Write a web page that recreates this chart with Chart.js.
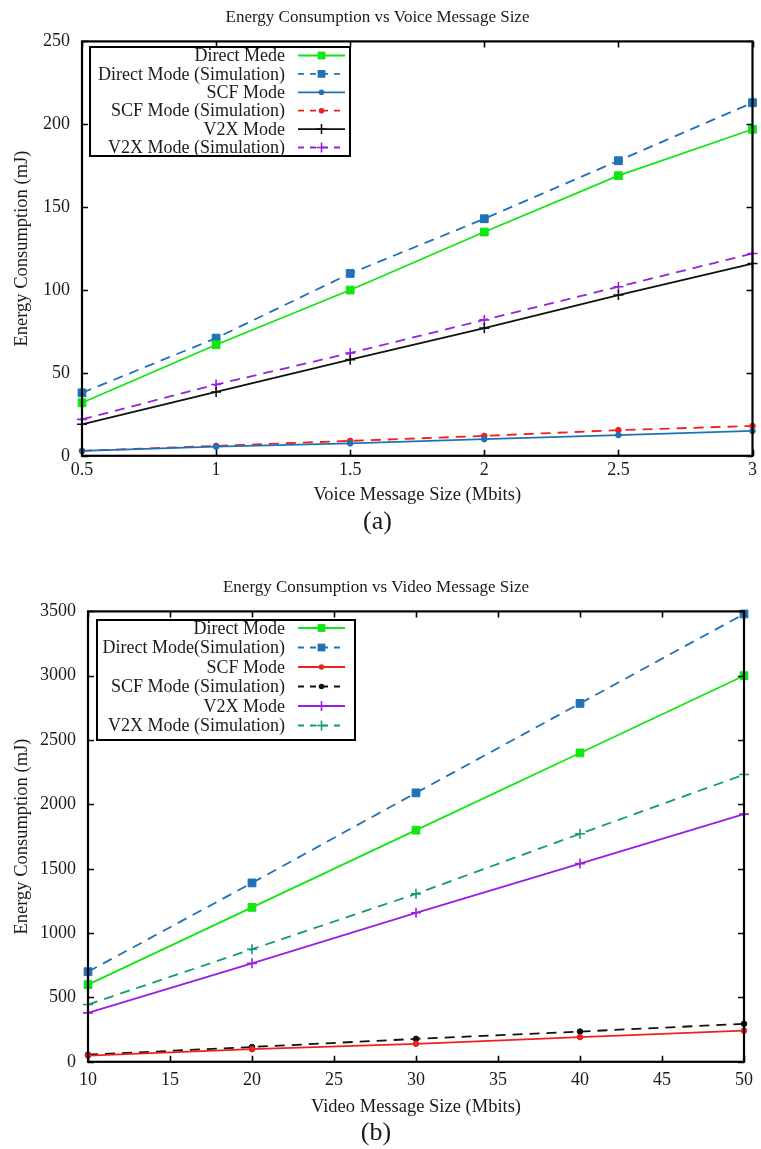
<!DOCTYPE html>
<html>
<head>
<meta charset="utf-8">
<script src="https://cdn.jsdelivr.net/npm/chart.js@4/dist/chart.umd.min.js"></script>
<style>
  html, body { margin: 0; padding: 0; background: #fff; }
  body { width: 761px; height: 1149px; position: relative; overflow: hidden; }
  canvas { position: absolute; left: 0; }
  #c1 { top: 0; }
  #c2 { top: 560px; }
</style>
</head>
<body>
<canvas id="c1" width="761" height="538"></canvas>
<canvas id="c2" width="761" height="589"></canvas>
<script>
// ---------- Data (a): voice ----------
const voiceSizes     = [0.5, 1, 1.5, 2, 2.5, 3];
const voiceDirect    = [32, 67, 100, 135, 169, 197];
const voiceDirectSim = [38, 71, 110, 143, 178, 213];
const voiceSCF       = [3, 5.5, 7.5, 10, 12.5, 15];
const voiceSCFSim    = [3, 6, 9, 12, 15.5, 18];
const voiceV2X       = [19, 38.5, 58, 77, 97, 116];
const voiceV2XSim    = [22, 43, 62, 82, 102, 122];
const voiceXTicks    = [0.5, 1, 1.5, 2, 2.5, 3];
const voiceYTicks    = [0, 50, 100, 150, 200, 250];

// ---------- Data (b): video ----------
const videoSizes     = [10, 20, 30, 40, 50];
const videoDirect    = [600, 1200, 1800, 2400, 3000];
const videoDirectSim = [700, 1390, 2090, 2785, 3480];
const videoSCF       = [48, 98, 140, 192, 242];
const videoSCFSim    = [55, 115, 178, 235, 295];
const videoV2X       = [380, 765, 1158, 1540, 1925];
const videoV2XSim    = [445, 875, 1305, 1772, 2232];
const videoXTicks    = [10, 15, 20, 25, 30, 35, 40, 45, 50];
const videoYTicks    = [0, 500, 1000, 1500, 2000, 2500, 3000, 3500];

const FONT = '"Liberation Serif", "Times New Roman", serif';
const TXT = '#1a1a1a';
const C = {
  green: '#12e612', blue: '#1f72b8', red: '#ee2020', black: '#111111',
  purple: '#9a1ee0', teal: '#119a78'
};
const DASH = [10, 7];

function pts(xs, ys) { return xs.map((x, i) => ({ x: x, y: ys[i] })); }

function ds(label, xs, ys, color, dashed, style) {
  const r = style === 'rect' ? 5.5 : (style === 'cross' ? 5 : 2.8);
  return {
    label: label,
    data: pts(xs, ys),
    borderColor: color,
    backgroundColor: color,
    borderWidth: 1.8,
    borderDash: dashed ? DASH : [],
    pointStyle: style,
    pointRadius: r,
    pointBorderWidth: style === 'cross' ? 1.6 : 1,
    pointBackgroundColor: color,
    pointBorderColor: color,
    tension: 0,
    clip: 10
  };
}

function marker(ctx, style, r, bw, x, y, color) {
  ctx.save();
  ctx.setLineDash([]);
  ctx.fillStyle = color; ctx.strokeStyle = color; ctx.lineWidth = bw;
  ctx.beginPath();
  if (style === 'rect') {
    const s = r * Math.SQRT1_2;
    ctx.rect(x - s, y - s, 2 * s, 2 * s); ctx.fill();
  } else if (style === 'circle') {
    ctx.arc(x, y, r, 0, Math.PI * 2); ctx.fill();
  } else if (style === 'cross') {
    ctx.moveTo(x - r, y); ctx.lineTo(x + r, y);
    ctx.moveTo(x, y - r); ctx.lineTo(x, y + r); ctx.stroke();
  }
  ctx.restore();
}

const framePlugin = {
  id: 'frame',
  afterDatasetsDraw(chart, args, o) {
    const { ctx, chartArea: a } = chart;
    const xs = chart.scales.x, ys = chart.scales.y;
    ctx.save();
    ctx.setLineDash([]);
    ctx.strokeStyle = '#000';
    ctx.lineWidth = 1.6;
    const L = 6;
    ctx.beginPath();
    xs.ticks.forEach(t => {
      const p = Math.round(xs.getPixelForValue(t.value)) + 0.5;
      ctx.moveTo(p, a.bottom); ctx.lineTo(p, a.bottom - L);
      ctx.moveTo(p, a.top); ctx.lineTo(p, a.top + L);
    });
    ys.ticks.forEach(t => {
      const p = Math.round(ys.getPixelForValue(t.value)) + 0.5;
      ctx.moveTo(a.left, p); ctx.lineTo(a.left + L, p);
      ctx.moveTo(a.right, p); ctx.lineTo(a.right - L, p);
    });
    ctx.stroke();
    ctx.lineWidth = 2.2;
    ctx.strokeRect(a.left, a.top, a.right - a.left, a.bottom - a.top);

    // legend box
    const lg = o.legend;
    ctx.fillStyle = '#fff';
    ctx.fillRect(lg.left, lg.top, lg.right - lg.left, lg.bottom - lg.top);
    ctx.lineWidth = 2;
    ctx.strokeStyle = '#000';
    ctx.strokeRect(lg.left, lg.top, lg.right - lg.left, lg.bottom - lg.top);
    ctx.font = lg.fontSize + 'px ' + FONT;
    ctx.textAlign = 'right';
    ctx.textBaseline = 'middle';
    chart.data.datasets.forEach((d, i) => {
      const y = lg.firstRow + i * lg.rowGap;
      ctx.fillStyle = TXT;
      ctx.fillText(d.label, lg.textRight, y + 1);
      ctx.save();
      ctx.strokeStyle = d.borderColor;
      ctx.lineWidth = 1.8;
      if (d.borderDash && d.borderDash.length) { ctx.setLineDash([6, 6]); ctx.lineDashOffset = 0; }
      ctx.beginPath();
      ctx.moveTo(lg.lineLeft, y); ctx.lineTo(lg.lineRight, y);
      ctx.stroke();
      ctx.restore();
      marker(ctx, d.pointStyle, d.pointRadius, d.pointBorderWidth, (lg.lineLeft + lg.lineRight) / 2, y, d.borderColor);
    });
    ctx.restore();
  }
};

function makeChart(id, cfg) {
  const tickFont = { family: FONT, size: 18 };
  return new Chart(document.getElementById(id), {
    type: 'line',
    data: { datasets: cfg.datasets },
    plugins: [framePlugin],
    options: {
      responsive: false,
      animation: false,
      events: [],
      layout: { padding: { left: 0, right: cfg.padRight, top: 0, bottom: 0 } },
      plugins: {
        legend: { display: false },
        tooltip: { enabled: false },
        title: {
          display: true, text: cfg.title, color: TXT,
          font: { family: FONT, size: 17, weight: 'normal' },
          padding: cfg.titlePad
        },
        subtitle: {
          display: true, position: 'bottom', text: cfg.sub, color: TXT,
          font: { family: FONT, size: 26, weight: 'normal' },
          padding: cfg.subPad
        },
        frame: { legend: cfg.legend }
      },
      scales: {
        x: {
          type: 'linear', min: cfg.xTicks[0], max: cfg.xTicks[cfg.xTicks.length - 1],
          afterBuildTicks: s => { s.ticks = cfg.xTicks.map(v => ({ value: v })); },
          afterFit: s => { s.height = cfg.xHeight; },
          grid: { display: false, drawTicks: false },
          border: { display: false },
          ticks: { autoSkip: false, maxRotation: 0, padding: cfg.xTickPad, color: TXT, font: tickFont, callback: v => String(v) },
          title: { display: true, text: cfg.xTitle, color: TXT, font: { family: FONT, size: 18.5 }, padding: { top: 0, bottom: 0 } }
        },
        y: {
          type: 'linear', min: cfg.yTicks[0], max: cfg.yTicks[cfg.yTicks.length - 1],
          afterBuildTicks: s => { s.ticks = cfg.yTicks.map(v => ({ value: v })); },
          afterFit: s => { s.width = cfg.yWidth; },
          grid: { display: false, drawTicks: false },
          border: { display: false },
          ticks: { autoSkip: false, padding: 12, color: TXT, font: tickFont, callback: v => String(v) },
          title: { display: true, text: 'Energy Consumption (mJ)', color: TXT, font: { family: FONT, size: 18.5 }, padding: { top: 11, bottom: 0 } }
        }
      }
    }
  });
}

makeChart('c1', {
  title: 'Energy Consumption vs Voice Message Size',
  xTitle: 'Voice Message Size (Mbits)',
  sub: '(a)',
  xTicks: voiceXTicks, yTicks: voiceYTicks,
  padRight: 6, yWidth: 82, xHeight: 50, xTickPad: 4,
  titlePad: { top: 7, bottom: 14 },
  subPad: { top: 1, bottom: 0 },
  legend: { left: 90, top: 47, right: 350, bottom: 156, firstRow: 55.5, rowGap: 18.4, textRight: 285, lineLeft: 298, lineRight: 345, fontSize: 18 },
  datasets: [
    ds('Direct Mede', voiceSizes, voiceDirect, C.green, false, 'rect'),
    ds('Direct Mode (Simulation)', voiceSizes, voiceDirectSim, C.blue, true, 'rect'),
    ds('SCF Mode', voiceSizes, voiceSCF, C.blue, false, 'circle'),
    ds('SCF Mode (Simulation)', voiceSizes, voiceSCFSim, C.red, true, 'circle'),
    ds('V2X Mode', voiceSizes, voiceV2X, C.black, false, 'cross'),
    ds('V2X Mode (Simulation)', voiceSizes, voiceV2XSim, C.purple, true, 'cross')
  ]
});

makeChart('c2', {
  title: 'Energy Consumption vs Video Message Size',
  xTitle: 'Video Message Size (Mbits)',
  sub: '(b)',
  xTicks: videoXTicks, yTicks: videoYTicks,
  padRight: 9, yWidth: 88, xHeight: 56, xTickPad: 8,
  titlePad: { top: 17, bottom: 14 },
  subPad: { top: 0, bottom: 0 },
  legend: { left: 97, top: 60, right: 355, bottom: 180, firstRow: 68, rowGap: 19.5, textRight: 285, lineLeft: 298, lineRight: 345, fontSize: 18 },
  datasets: [
    ds('Direct Mode', videoSizes, videoDirect, C.green, false, 'rect'),
    ds('Direct Mode(Simulation)', videoSizes, videoDirectSim, C.blue, true, 'rect'),
    ds('SCF Mode', videoSizes, videoSCF, C.red, false, 'circle'),
    ds('SCF Mode (Simulation)', videoSizes, videoSCFSim, C.black, true, 'circle'),
    ds('V2X Mode', videoSizes, videoV2X, C.purple, false, 'cross'),
    ds('V2X Mode (Simulation)', videoSizes, videoV2XSim, C.teal, true, 'cross')
  ]
});
</script>
</body>
</html>
